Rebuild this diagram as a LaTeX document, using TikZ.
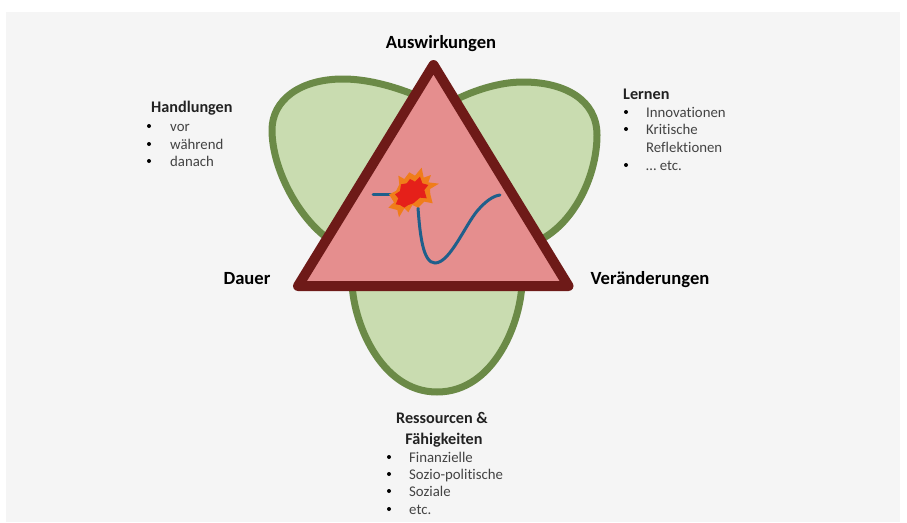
\documentclass[tikz,border=0pt]{standalone}
\usepackage{fontspec}
\setmainfont{Carlito}[Ligatures=NoCommon]
\definecolor{bgc}{HTML}{F5F5F5}
\definecolor{leaf}{HTML}{C9DCB0}
\definecolor{leafline}{HTML}{6B8A47}
\definecolor{tri}{HTML}{E58E8E}
\definecolor{triline}{HTML}{6E1A18}
\definecolor{curve}{HTML}{1F5F8B}
\definecolor{burstout}{HTML}{F07D1A}
\definecolor{burstin}{HTML}{E5201A}
\definecolor{txt}{HTML}{222222}
\tikzset{
  leafshape/.style={fill=leaf,draw=leafline,line width=7,line join=round},
  triangleshape/.style={fill=tri,draw=triline,line width=10,line join=round},
  head/.style={font=\fontsize{18.6}{22}\selectfont\bfseries,text=black,inner sep=0,anchor=base},
  sub/.style={font=\fontsize{16.2}{20}\selectfont\bfseries,text=txt,inner sep=0,anchor=base},
  subleft/.style={sub,anchor=base west},
  item/.style={font=\fontsize{14.8}{18}\selectfont,text=txt!85,inner sep=0,anchor=base west},
  bul/.style={circle,fill=black,inner sep=0,minimum size=4}
}
\begin{document}
\begin{tikzpicture}[x=1pt,y=-1pt]
\useasboundingbox (0,0) rectangle (907,522);
\fill[bgc] (6,12) rectangle (900,522);
% leaves
\draw[leafshape] (415,95) .. controls (390,85) and (365,79) .. (343,79)
  .. controls (300,79) and (272,100) .. (272,130)
  .. controls (272,170) and (300,220) .. (330,240) -- (400,170) -- cycle;
\draw[leafshape] (455,100) .. controls (475,90) and (500,82) .. (523,82)
  .. controls (565,82) and (597,100) .. (597,135)
  .. controls (597,175) and (575,222) .. (540,240) -- (470,170) -- cycle;
\draw[leafshape] (352,280) .. controls (352,320) and (380,392) .. (437,392)
  .. controls (495,392) and (522,320) .. (522,280) -- cycle;
% triangle
\draw[triangleshape] (433.5,65) -- (298,286) -- (568.5,286) -- cycle;
% curve
\draw[curve,line width=3,line cap=round] (373,194) -- (392,194);
\draw[curve,line width=3,line cap=round] (418,208) .. controls (420,235) and (423,263) .. (435,263)
  .. controls (450,263) and (465,225) .. (478,210) .. controls (486,201) and (493,196) .. (500,195);
% burst
\begin{scope}[shift={(365,155)},x=0.3333pt,y=-0.3333pt]
\fill[burstout] (100,62) -- (118,72) -- (133,52) -- (150,62) -- (170,38) -- (176,68) -- (198,60) -- (190,82) -- (222,86) -- (195,102) -- (196,118) -- (203,145) -- (178,140) -- (160,158) -- (142,150) -- (130,172) -- (118,160) -- (102,187) -- (97,165) -- (70,158) -- (87,142) -- (72,118) -- (93,108) -- (103,88) -- cycle;
\fill[burstin] (108,88) -- (125,85) -- (135,72) -- (150,80) -- (165,65) -- (172,85) -- (190,90) -- (178,105) -- (185,130) -- (165,128) -- (145,145) -- (130,150) -- (118,158) -- (105,150) -- (92,148) -- (100,130) -- (90,118) -- (105,108) -- cycle;
\end{scope}
% labels
\node[head] (auswirkungen) at (441,48) {Auswirkungen};
\node[head] (dauer) at (247,284) {Dauer};
\node[head] (veraenderungen) at (650,284) {Veränderungen};
% Handlungen
\node[subleft] (handlungen) at (151,112) {Handlungen};
\node[item] (h1) at (170,131) {vor};
\node[item] (h2) at (170,149) {während};
\node[item] (h3) at (170,166) {danach};
\node[bul] (hb1) at (149,126) {};
\node[bul] (hb2) at (149,144) {};
\node[bul] (hb3) at (149,161) {};
% Lernen
\node[subleft] (lernen) at (623,99) {Lernen};
\node[item] (l1) at (646,117) {Innovationen};
\node[item] (l2) at (646,134) {Kritische};
\node[item] (l3) at (646,152) {Reflektionen};
\node[item] (l4) at (646,170) {… etc.};
\node[bul] (lb1) at (626,112) {};
\node[bul] (lb2) at (626,129) {};
\node[bul] (lb4) at (626,165) {};
% Ressourcen
\node[sub] (r1) at (442,423) {Ressourcen \&};
\node[sub] (r2) at (444,444) {Fähigkeiten};
\node[item] (r3) at (409,462) {Finanzielle};
\node[item] (r4) at (409,479) {Sozio-politische};
\node[item] (r5) at (409,496) {Soziale};
\node[item] (r6) at (409,514) {etc.};
\node[bul] (rb3) at (389,457) {};
\node[bul] (rb4) at (389,474) {};
\node[bul] (rb5) at (389,491) {};
\node[bul] (rb6) at (389,509) {};
\end{tikzpicture}
\end{document}
